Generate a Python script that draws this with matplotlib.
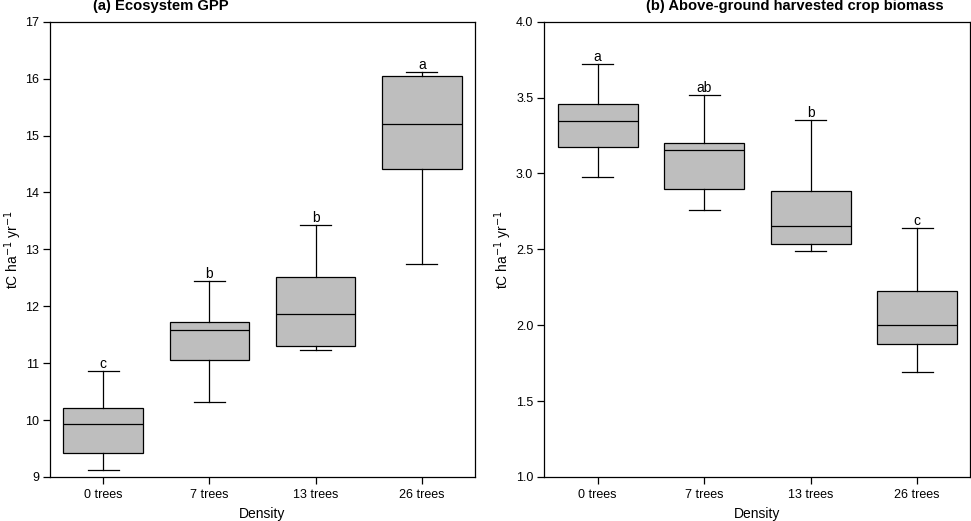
import matplotlib
matplotlib.use("Agg")
import matplotlib.pyplot as plt

# ── Data ───────────────────────────────────────────────────────────────────
densities = ["0 trees", "7 trees", "13 trees", "26 trees"]

gpp_whislo = [9.12, 10.31, 11.23, 12.75]
gpp_q1     = [9.43, 11.05, 11.31, 14.42]
gpp_med    = [9.93, 11.59, 11.86, 15.21]
gpp_q3     = [10.22, 11.73, 12.52, 16.04]
gpp_whishi = [10.86, 12.45, 13.42, 16.11]
gpp_letters = ["c", "b", "b", "a"]

crop_whislo = [2.98, 2.757, 2.487, 1.692]
crop_q1     = [3.174, 2.90, 2.533, 1.876]
crop_med    = [3.343, 3.152, 2.651, 1.999]
crop_q3     = [3.455, 3.198, 2.882, 2.223]
crop_whishi = [3.72, 3.52, 3.35, 2.638]
crop_letters = ["a", "ab", "b", "c"]

# ── Theme ──────────────────────────────────────────────────────────────────
BOX_FILL = "#BEBEBE"
LW = 0.9
plt.rcParams.update({
    "font.family": ["Liberation Sans", "DejaVu Sans"],
    "font.size": 9.5,
    "axes.linewidth": LW,
    "xtick.major.width": LW, "ytick.major.width": LW,
    "xtick.major.size": 5, "ytick.major.size": 5,
    "xtick.major.pad": 4, "ytick.major.pad": 3,
})

fig = plt.figure(figsize=(9.71, 5.21), dpi=100)
ax1 = fig.add_axes([0.0515, 0.0845, 0.4377, 0.8738])
ax2 = fig.add_axes([0.5606, 0.0845, 0.4387, 0.8738])


def draw_panel(ax, lo, q1, med, q3, hi, letters, ylim, yticks, ytick_fmt):
    stats = []
    for name, a, b, c, d, e in zip(densities, lo, q1, med, q3, hi):
        stats.append({"label": name, "whislo": a, "q1": b, "med": c,
                      "q3": d, "whishi": e, "fliers": []})
    pos = list(range(1, len(densities) + 1))
    ax.bxp(stats, positions=pos, widths=0.75, capwidths=0.29,
           showfliers=False, patch_artist=True,
           boxprops=dict(facecolor=BOX_FILL, edgecolor="black", linewidth=LW),
           medianprops=dict(color="black", linewidth=LW),
           whiskerprops=dict(color="black", linewidth=LW),
           capprops=dict(color="black", linewidth=LW))
    for x, top, lab in zip(pos, hi, letters):
        ax.text(x, top, lab, ha="center", va="bottom", fontsize=10)
    ax.set_xlim(0.5, len(densities) + 0.5)
    ax.set_ylim(*ylim)
    ax.set_yticks(yticks)
    ax.set_yticklabels([ytick_fmt.format(v) for v in yticks])
    ax.set_xticks(pos)
    ax.set_xticklabels(densities)
    ax.tick_params(direction="out", labelsize=9)
    ax.set_xlabel("Density", fontsize=10, labelpad=4)
    ax.set_ylabel(r"tC ha$^{-1}$ yr$^{-1}$", fontsize=10, labelpad=1)


draw_panel(ax1, gpp_whislo, gpp_q1, gpp_med, gpp_q3, gpp_whishi, gpp_letters,
           (9, 17), list(range(9, 18)), "{:d}")
draw_panel(ax2, crop_whislo, crop_q1, crop_med, crop_q3, crop_whishi, crop_letters,
           (1.0, 4.0), [1.0, 1.5, 2.0, 2.5, 3.0, 3.5, 4.0], "{:.1f}")

fig.text(161 / 971, 1 - 6 / 521, "(a) Ecosystem GPP", ha="center", va="center",
         fontsize=10.6, fontweight="bold")
fig.text(795 / 971, 1 - 6 / 521, "(b) Above-ground harvested crop biomass",
         ha="center", va="center", fontsize=10.6, fontweight="bold")

fig.savefig("out.png", dpi=100)
